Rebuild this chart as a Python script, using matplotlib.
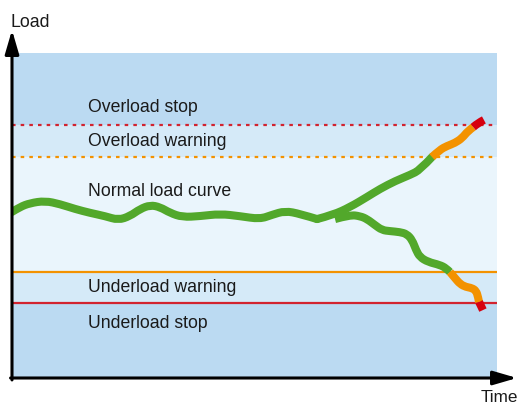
import matplotlib
matplotlib.use("Agg")
import matplotlib.pyplot as plt
from matplotlib.path import Path
from matplotlib.patches import PathPatch

# ---- data (time 0-100, load 0-100) ----
thresholds = {"overload_stop": 77.8, "overload_warning": 68.0,
              "underload_warning": 32.6, "underload_stop": 23.1}

trunk_t = [0.0, 1.6, 3.7, 6.8, 9.9, 13.0, 16.1, 19.2, 21.9, 24.3, 26.4, 28.5, 30.5,
           32.6, 35.1, 38.8, 42.9, 47.0, 51.1, 53.6, 56.3, 59.4, 62.9]
trunk_y = [51.1, 52.6, 53.8, 54.5, 53.5, 52.0, 50.8, 49.8, 48.6, 49.8, 52.0, 53.2, 52.6,
           50.8, 49.5, 49.8, 50.5, 49.8, 48.9, 50.2, 51.4, 50.5, 48.9]

up_green_t = [62.9, 66.2, 69.7, 73.2, 75.9, 79.0, 82.1, 84.1, 86.6]
up_green_y = [48.9, 50.2, 52.6, 55.7, 58.2, 60.6, 62.5, 64.0, 68.0]
up_orange_t = [86.6, 88.2, 89.7, 91.3, 92.8, 94.0, 95.1]
up_orange_y = [68.0, 70.2, 71.4, 72.3, 73.8, 76.0, 77.2]
up_red_t = [95.1, 96.1, 97.3]
up_red_y = [77.2, 78.5, 79.4]

lo_green_t = [66.6, 69.7, 71.8, 73.2, 74.8, 76.3, 77.9, 80.0, 81.4, 82.5, 83.3, 84.1,
              85.8, 88.2, 89.5, 90.3]
lo_green_y = [48.9, 50.2, 49.8, 48.9, 47.1, 45.5, 45.2, 44.9, 44.3, 42.5, 39.4, 37.2,
              35.7, 34.8, 33.8, 32.6]
lo_orange_t = [90.3, 91.3, 92.4, 93.6, 94.8, 95.7, 96.1, 96.3]
lo_orange_y = [32.6, 30.8, 28.9, 28.0, 27.7, 26.8, 24.9, 23.4]
lo_red_t = [96.3, 96.7, 97.1]
lo_red_y = [23.4, 22.2, 20.9]

zone_labels = ["Overload stop", "Overload warning", "Normal load curve",
               "Underload warning", "Underload stop"]
zone_label_y = [81.8, 71.4, 56.0, 26.5, 15.4]

# ---- style ----
DARK = "#BBDAF2"
MID = "#D5EAF8"
LIGHT = "#EAF5FC"
GREEN = "#52A82B"
ORANGE = "#F39200"
RED = "#D6000F"
LINE_RED = "#D2232F"
FONT = "Liberation Sans"
TXT = "#1a1a1a"

fig = plt.figure(figsize=(5.22, 4.05), dpi=100)
ax = fig.add_axes([12 / 522, 27 / 405, 485 / 522, 325 / 405])
ax.set_xlim(0, 100)
ax.set_ylim(0, 100)
for s in ax.spines.values():
    s.set_visible(False)
ax.set_xticks([])
ax.set_yticks([])

ost = thresholds["overload_stop"]
ow = thresholds["overload_warning"]
uw = thresholds["underload_warning"]
ust = thresholds["underload_stop"]

ax.axhspan(ost, 100, color=DARK, lw=0, zorder=0)
ax.axhspan(ow, ost, color=MID, lw=0, zorder=0)
ax.axhspan(uw, ow, color=LIGHT, lw=0, zorder=0)
ax.axhspan(ust, uw, color=MID, lw=0, zorder=0)
ax.axhspan(0, ust, color=DARK, lw=0, zorder=0)

ax.axhline(ost, color=LINE_RED, lw=1.6, ls=(0, (1.6, 2.3)), zorder=1)
ax.axhline(ow, color=ORANGE, lw=1.6, ls=(0, (1.6, 2.3)), zorder=1)
ax.axhline(uw, color=ORANGE, lw=1.6, zorder=1)
ax.axhline(ust, color=LINE_RED, lw=1.6, zorder=1)


def smooth_curve(ts, ys, color, cap, z=3):
    """Draw a smooth quadratic-Bezier path using the read points as controls."""
    pts = list(zip(ts, ys))
    verts = [pts[0]]
    codes = [Path.MOVETO]
    n = len(pts)
    if n == 2:
        verts.append(pts[1])
        codes.append(Path.LINETO)
    else:
        for i in range(1, n - 2):
            mid = ((pts[i][0] + pts[i + 1][0]) / 2, (pts[i][1] + pts[i + 1][1]) / 2)
            verts += [pts[i], mid]
            codes += [Path.CURVE3, Path.CURVE3]
        verts += [pts[n - 2], pts[n - 1]]
        codes += [Path.CURVE3, Path.CURVE3]
    patch = PathPatch(Path(verts, codes), fill=False, edgecolor=color, lw=5.8,
                      capstyle=cap, joinstyle="round", zorder=z,
                      transform=ax.transData)
    ax.add_patch(patch)


smooth_curve(trunk_t, trunk_y, GREEN, "round")
smooth_curve(up_green_t, up_green_y, GREEN, "round")
smooth_curve(up_orange_t, up_orange_y, ORANGE, "butt", 3.1)
smooth_curve(up_red_t, up_red_y, RED, "butt", 3.2)
smooth_curve(lo_green_t, lo_green_y, GREEN, "butt")
smooth_curve(lo_orange_t, lo_orange_y, ORANGE, "butt", 3.1)
smooth_curve(lo_red_t, lo_red_y, RED, "butt", 3.2)

for lab, yy in zip(zone_labels, zone_label_y):
    ax.text(15.7, yy, lab, fontsize=12.7, family=FONT, color=TXT,
            va="baseline", ha="left", zorder=4)

# axes arrows
ap = dict(arrowstyle="-|>,head_length=0.72,head_width=0.21", mutation_scale=20,
          lw=2.2, color="black", shrinkA=0, shrinkB=0)
ax.annotate("", xy=(0, 1 + 23 / 325), xytext=(0, -0.006), xycoords="axes fraction",
            textcoords="axes fraction", arrowprops=ap, annotation_clip=False)
ax.annotate("", xy=(1 + 20 / 485, 0), xytext=(-0.003, 0), xycoords="axes fraction",
            textcoords="axes fraction", arrowprops=ap, annotation_clip=False)

fig.text(11 / 522, 1 - 27 / 405, "Load", fontsize=12.7, family=FONT,
         color=TXT, va="baseline", ha="left")
fig.text(481 / 522, 1 - 402 / 405, "Time", fontsize=12.3, family=FONT,
         color=TXT, va="baseline", ha="left")

fig.savefig("out.png", dpi=100)
